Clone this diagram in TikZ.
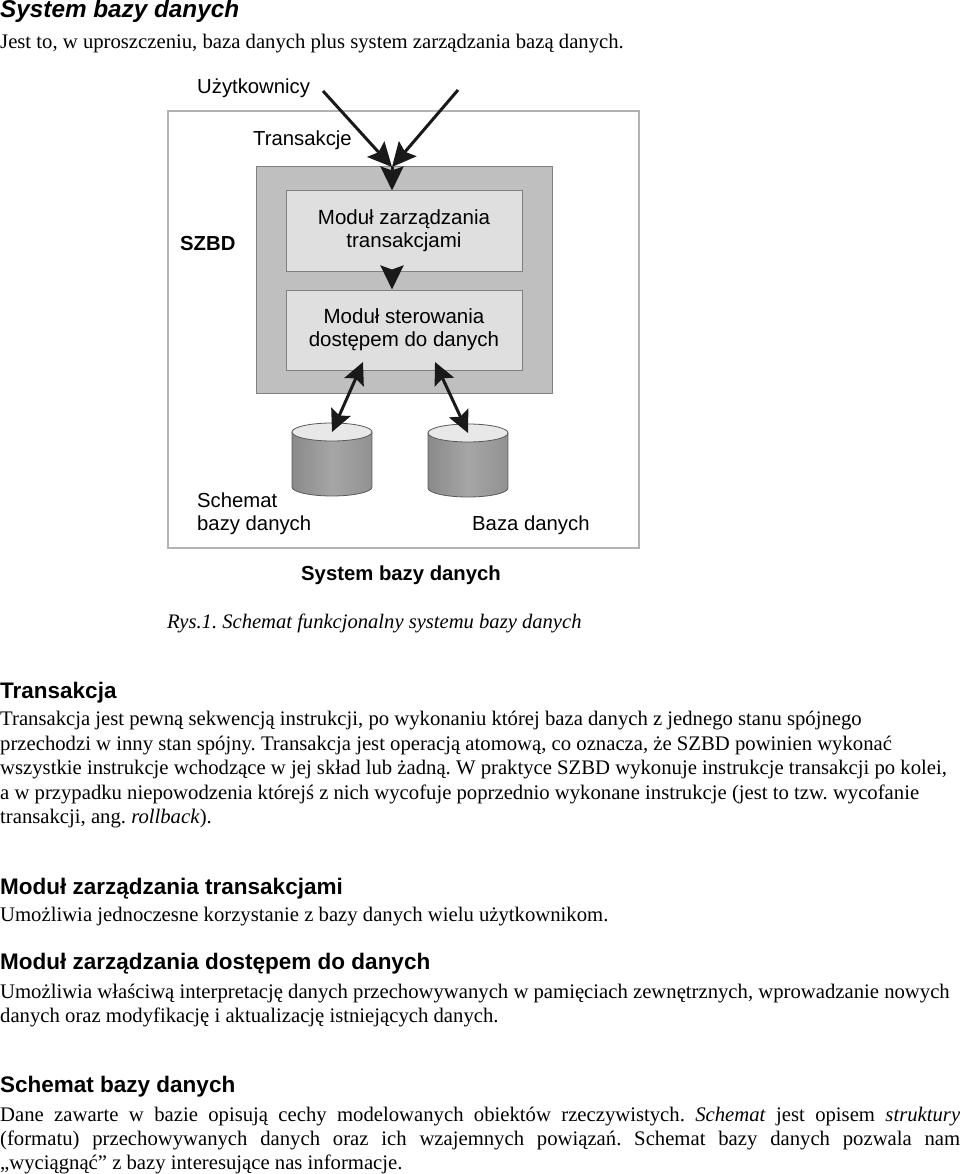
\documentclass[tikz,border=0pt]{standalone}
\usepackage{fontspec}
\setmainfont{Liberation Serif}
\setsansfont{Liberation Sans}
\usepackage{tikz}
\usetikzlibrary{arrows.meta,positioning}
\frenchspacing

\tikzset{
	dbcan/.pic = {
		\shade[left color = gray!92, right color = gray!86, middle color = gray!70, draw = gray!70!black, line width = .8pt]
			(-40,0) -- (-40,55) arc[start angle = 180, end angle = 360, x radius = 40pt, y radius = 9pt] -- (40,0) -- cycle;
		\draw[fill = gray!18, draw = gray!70!black, line width = .8pt] (0,0) ellipse [x radius = 40pt, y radius = 9pt];
		\coordinate (-top) at (0,0);
	}
}

\begin{document}
\begin{tikzpicture}[
				x = 1pt, y = -1pt,
				body/.style = {anchor = base west, inner sep = 0pt, font = \fontsize{20.7}{24}\selectfont},
				head/.style = {anchor = base west, inner sep = 0pt, font = \sffamily\bfseries\fontsize{22.5}{27}\selectfont},
				lbl/.style = {anchor = base west, inner sep = 0pt, font = \sffamily\fontsize{20.3}{23}\selectfont},
				modbox/.style = {draw = gray, fill = gray!25, line width = 1pt, minimum width = 236pt, minimum height = 80pt,
					align = center, font = \sffamily\fontsize{20.5}{23}\selectfont},
				arr/.style = {-{Stealth[length = 24pt, width = 23pt, inset = 4pt]}, line width = 3pt, black!90},
				darr/.style = {{Stealth[length = 22pt, width = 21pt, inset = 4pt]}-{Stealth[length = 22pt, width = 21pt, inset = 4pt]}, line width = 3pt, black!90}
			]

			\useasboundingbox (0,0) rectangle (960,1174);

			\node[anchor = base west, inner sep = 0pt, font = \sffamily\bfseries\itshape\fontsize{24.3}{28}\selectfont] (title) at (0,18) {System bazy danych};
			\node[body] (intro) at (0,48.5) {Jest to, w uproszczeniu, baza danych plus system zarządzania bazą danych.};

			\node[draw = gray!60, line width = 1.5pt, minimum width = 471pt, minimum height = 437pt, inner sep = 0pt] (sys) at (403.5,329.5) {};
			\node[draw = gray, fill = gray!50, line width = 1pt, minimum width = 296pt, minimum height = 226pt] (szbd) at (404,280) {};
			\node[modbox] (mod1) at (404,231) {Moduł zarządzania\\transakcjami};
			\node[modbox, below = 18pt of mod1] (mod2) {Moduł sterowania\\dostępem do danych};

			\node[lbl] (users) at (197,94) {Użytkownicy};
			\node[lbl] (trans) at (253,146) {Transakcje};
			\node[lbl, font = \sffamily\bfseries\fontsize{20.3}{23}\selectfont] (szbdlbl) at (180,251) {SZBD};

			\pic (db1) at (332,432) {dbcan};
			\pic (db2) at (468,433) {dbcan};

			\node[lbl] (schem1) at (197,507) {Schemat};
			\node[lbl] (schem2) at (197,530) {bazy danych};
			\node[lbl] (baza) at (472,530) {Baza danych};
			\node[lbl, font = \sffamily\bfseries\fontsize{20.3}{23}\selectfont] (syslbl) at (301,580) {System bazy danych};

			\coordinate (u1) at (323,91);
			\coordinate (u2) at (458,90);
			\coordinate (jn) at (392,167);
			\coordinate (p1) at (363,362);
			\coordinate (p2) at (435,362);

			\draw[arr] (u1) -- (jn);
			\draw[arr] (u2) -- (jn);
			\draw[arr] (jn) -- (jn |- mod1.north);
			\draw[arr] (jn |- mod1.south) -- (jn |- mod2.north);
			\draw[darr] (p1) -- (db1-top);
			\draw[darr] (p2) -- (db2-top);

			\node[body, font = \itshape\fontsize{20.6}{24}\selectfont] (rys) at (167,628) {Rys.1. Schemat funkcjonalny systemu bazy danych};

			\node[head] (h1) at (0,698) {Transakcja};
			\node[body] (t1) at (0,725.5) {Transakcja jest pewną sekwencją instrukcji, po wykonaniu której baza danych z jednego stanu spójnego};
			\node[body] (t2) at (0,750) {przechodzi w inny stan spójny. Transakcja jest operacją atomową, co oznacza, że SZBD powinien wykonać};
			\node[body] (t3) at (0,774.5) {wszystkie instrukcje wchodzące w jej skład lub żadną. W praktyce SZBD wykonuje instrukcje transakcji po kolei,};
			\node[body] (t4) at (0,799) {a w przypadku niepowodzenia którejś z nich wycofuje poprzednio wykonane instrukcje (jest to tzw. wycofanie};
			\node[body] (t5) at (0,823.5) {transakcji, ang. \textit{rollback}).};

			\node[head] (h2) at (0,894) {Moduł zarządzania transakcjami};
			\node[body] (m1) at (0,921) {Umożliwia jednoczesne korzystanie z bazy danych wielu użytkownikom.};

			\node[head] (h3) at (0,969) {Moduł zarządzania dostępem do danych};
			\node[body] (d1) at (0,998) {Umożliwia właściwą interpretację danych przechowywanych w pamięciach zewnętrznych, wprowadzanie nowych};
			\node[body] (d2) at (0,1022) {danych oraz modyfikację i aktualizację istniejących danych.};

			\node[head] (h4) at (0,1092) {Schemat bazy danych};
			\node[body] (s1) at (0,1121) {\makebox[960pt][s]{Dane zawarte w bazie opisują cechy modelowanych obiektów rzeczywistych. \textit{Schemat} jest opisem \textit{struktury}}};
			\node[body] (s2) at (0,1145) {\makebox[960pt][s]{(formatu) przechowywanych danych oraz ich wzajemnych powiązań. Schemat bazy danych pozwala nam}};
			\node[body] (s3) at (0,1169) {„wyciągnąć” z bazy interesujące nas informacje.};

			\end{tikzpicture}
\end{document}
